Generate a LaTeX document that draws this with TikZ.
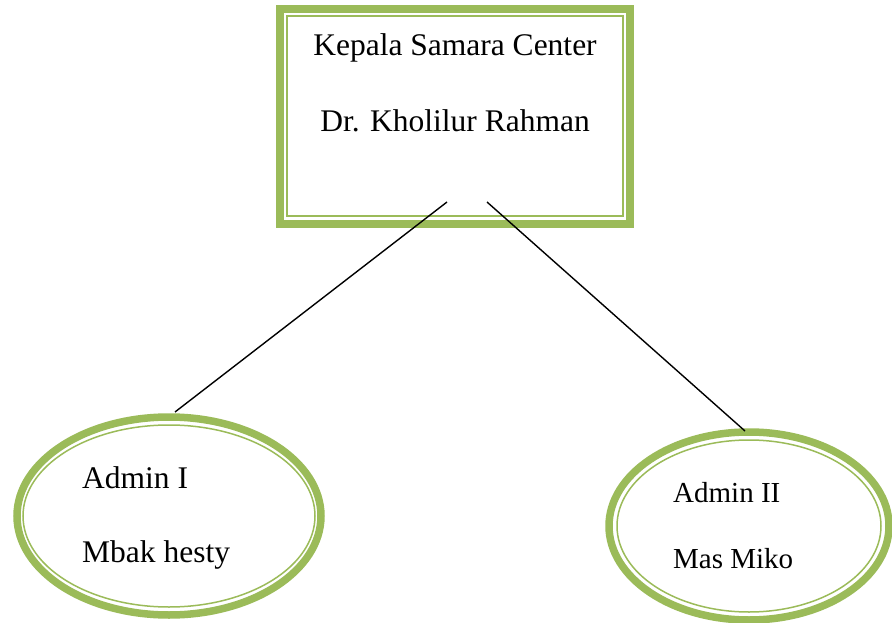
\documentclass[tikz,border=0pt]{standalone}
\usepackage{fontspec}
\setmainfont{Liberation Serif}
\usetikzlibrary{shapes.geometric}
\definecolor{olive}{HTML}{9BBB59}
\begin{document}
\begin{tikzpicture}[x=1pt,y=-1pt,
  thickrect/.style={draw=olive,line width=8pt,rectangle,inner sep=0pt},
  thinrect/.style={draw=olive,line width=1.5pt,rectangle,inner sep=0pt},
  thickell/.style={draw=olive,line width=7.5pt,ellipse,inner sep=0pt},
  thinell/.style={draw=olive,line width=1.5pt,ellipse,inner sep=0pt},
  lbl/.style={font=\fontsize{31.5}{38}\selectfont,inner sep=0pt},
  lbls/.style={font=\fontsize{29}{35}\selectfont,inner sep=0pt},
  conn/.style={draw=black,line width=1.4pt}]
\useasboundingbox (0,0) rectangle (892,623);
% head box
\node[thickrect,minimum width=350pt,minimum height=215pt] (boss) at (455,116.5) {};
\node[thinrect,minimum width=336pt,minimum height=200pt] (bossin) at (455,116) {};
\node[lbl,anchor=base] (t1) at (455,56) {Kepala Samara Center};
\node[lbl,anchor=base] (t2) at (455,132) {Dr. Kholilur Rahman};
% left ellipse
\node[thickell,minimum width=304pt,minimum height=198pt] (adm1) at (169,516) {};
\node[thinell,minimum width=292pt,minimum height=182pt] (adm1in) at (169,516) {};
\node[lbl,anchor=base west] (a1) at (82,488) {Admin I};
\node[lbl,anchor=base west] (a2) at (82,562) {Mbak hesty};
% right ellipse
\node[thickell,minimum width=280pt,minimum height=188pt] (adm2) at (749,526) {};
\node[thinell,minimum width=264pt,minimum height=172pt] (adm2in) at (749,526) {};
\node[lbls,anchor=base west] (b1) at (673,502) {Admin II};
\node[lbls,anchor=base west] (b2) at (673,568) {Mas Miko};
% connectors
\coordinate (s1) at (447,202);
\coordinate (e1) at (175,412);
\coordinate (s2) at (487,202);
\coordinate (e2) at (745,431);
\draw[conn] (s1) -- (e1);
\draw[conn] (s2) -- (e2);
\end{tikzpicture}
\end{document}
